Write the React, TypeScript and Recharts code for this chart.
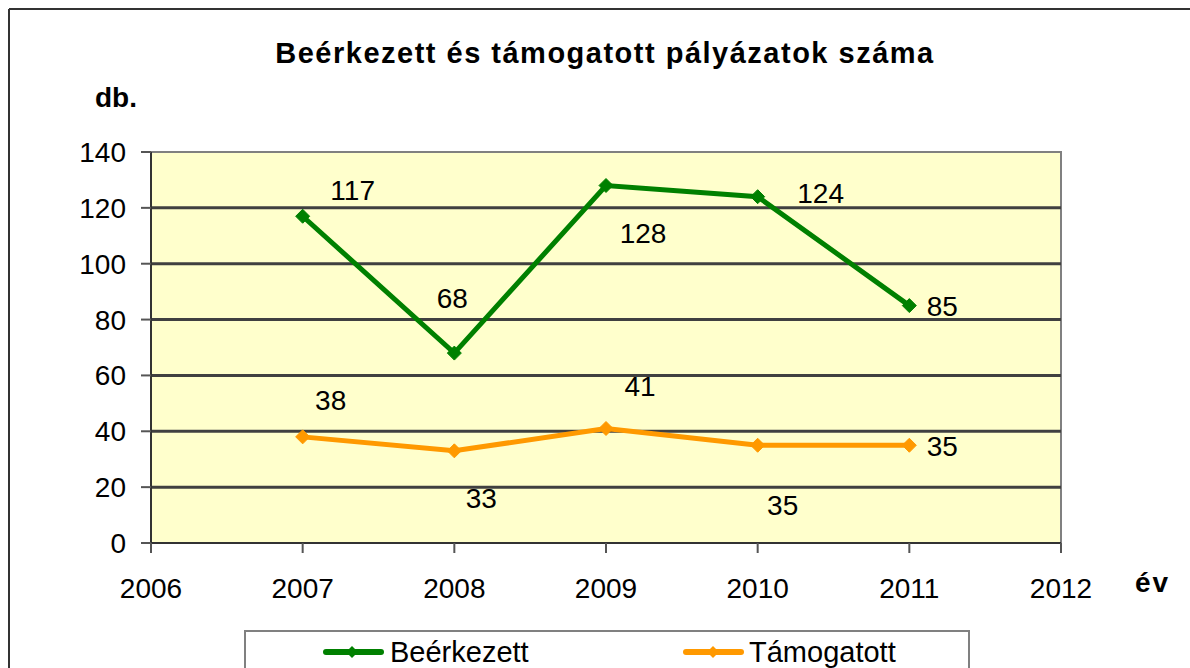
import React from 'react';
import { LineChart, Line, XAxis, YAxis, ReferenceArea, ReferenceLine, LabelList } from 'recharts';

const years = [2007, 2008, 2009, 2010, 2011];
const received = [117, 68, 128, 124, 85];
const supported = [38, 33, 41, 35, 35];
const xTicks = [2006, 2007, 2008, 2009, 2010, 2011, 2012];
const yTicks = [0, 20, 40, 60, 80, 100, 120, 140];

const title = 'Beérkezett és támogatott pályázatok száma';
const yUnit = 'db.';
const xUnit = 'év';
const nameReceived = 'Beérkezett';
const nameSupported = 'Támogatott';

// label placement (pixel offsets from each point)
const receivedLabelOffsets = [
  { dx: 50, dy: -26 },
  { dx: -2, dy: -55 },
  { dx: 37, dy: 48 },
  { dx: 63, dy: -4 },
  { dx: 33, dy: 0 },
];
const supportedLabelOffsets = [
  { dx: 28, dy: -37 },
  { dx: 27, dy: 47 },
  { dx: 34, dy: -42 },
  { dx: 25, dy: 60 },
  { dx: 33, dy: 1 },
];

const GREEN = '#008000';
const ORANGE = '#FF9900';
const FONT = '"Liberation Sans", Arial, sans-serif';

const data = years.map((y, i) => ({ year: y, received: received[i], supported: supported[i] }));

const diamond = (color: string, r: number) => (props: any) => {
  const { cx, cy } = props;
  if (cx == null || cy == null) return <g />;
  return (
    <polygon
      points={`${cx},${cy - r} ${cx + r},${cy} ${cx},${cy + r} ${cx - r},${cy}`}
      fill={color}
      stroke={color}
      strokeWidth={1}
    />
  );
};

const makeLabel = (offsets: { dx: number; dy: number }[]) => (p: any) => {
  const idx = typeof p.index === 'number' ? p.index : 0;
  const o = offsets[idx] || { dx: 0, dy: 0 };
  return (
    <text
      x={Number(p.x) + o.dx}
      y={Number(p.y) + o.dy}
      dy="0.355em"
      textAnchor="middle"
      fontSize={28}
      fontFamily={FONT}
      fill="#000"
    >
      {p.value}
    </text>
  );
};

const tickStyle = { fontSize: 28, fontFamily: FONT, fill: '#000' };

export default function App() {
  return (
    <div style={{ position: 'absolute', left: 0, top: 0, width: 1190, height: 668, overflow: 'hidden', background: '#fff' }}>
      <div style={{ position: 'absolute', left: 0, top: 0 }}>
        <LineChart
          width={1190}
          height={668}
          data={data}
          margin={{ top: 152, right: 129, bottom: 65, left: 51 }}
        >
          <XAxis
            dataKey="year"
            type="number"
            domain={[2006, 2012]}
            ticks={xTicks}
            interval={0}
            height={60}
            tickSize={10}
            tickMargin={25}
            tick={tickStyle}
            axisLine={{ stroke: '#333', strokeWidth: 2 }}
            tickLine={{ stroke: '#555', strokeWidth: 2 }}
          />
          <YAxis
            type="number"
            domain={[0, 140]}
            ticks={yTicks}
            interval={0}
            width={100}
            tickSize={10}
            tickMargin={15}
            tick={tickStyle}
            axisLine={{ stroke: '#333', strokeWidth: 2 }}
            tickLine={{ stroke: '#555', strokeWidth: 2 }}
          />
          <ReferenceArea
            x1={2006}
            x2={2012}
            y1={0}
            y2={140}
            fill="#FFFFCC"
            fillOpacity={1}
            stroke="#808080"
            strokeWidth={2}
          />
          {yTicks.slice(1, -1).map((v) => (
            <ReferenceLine key={v} y={v} stroke="#404040" strokeWidth={3} />
          ))}
          <Line
            dataKey="received"
            stroke={GREEN}
            strokeWidth={5}
            dot={diamond(GREEN, 7)}
            activeDot={false}
            isAnimationActive={false}
          >
            <LabelList dataKey="received" content={makeLabel(receivedLabelOffsets)} />
          </Line>
          <Line
            dataKey="supported"
            stroke={ORANGE}
            strokeWidth={5}
            dot={diamond(ORANGE, 7)}
            activeDot={false}
            isAnimationActive={false}
          >
            <LabelList dataKey="supported" content={makeLabel(supportedLabelOffsets)} />
          </Line>
        </LineChart>
      </div>
      <svg
        width={1190}
        height={668}
        style={{ position: 'absolute', left: 0, top: 0, pointerEvents: 'none' }}
      >
        <line x1={9} y1={9} x2={1190} y2={9} stroke="#333" strokeWidth={2} />
        <line x1={9} y1={9} x2={9} y2={668} stroke="#333" strokeWidth={2} />
        <text x={605} y={63} textAnchor="middle" fontSize={29} fontWeight="bold" fontFamily={FONT} letterSpacing={1.5} fill="#000">
          {title}
        </text>
        <text x={95} y={107} fontSize={28} fontWeight="bold" fontFamily={FONT} fill="#000">
          {yUnit}
        </text>
        <text x={1135} y={592} fontSize={28} fontWeight="bold" fontFamily={FONT} letterSpacing={2} fill="#000">
          {xUnit}
        </text>
        <rect x={245} y={631} width={724} height={60} fill="#fff" stroke="#808080" strokeWidth={2} />
        <line x1={326} y1={652} x2={381} y2={652} stroke={GREEN} strokeWidth={6} strokeLinecap="round" />
        <polygon points="352,646 358,652 352,658 346,652" fill={GREEN} />
        <text x={390} y={662} fontSize={29} fontFamily={FONT} fill="#000">{nameReceived}</text>
        <line x1={686} y1={652} x2={741} y2={652} stroke={ORANGE} strokeWidth={6} strokeLinecap="round" />
        <polygon points="713,646 719,652 713,658 707,652" fill={ORANGE} />
        <text x={749} y={662} fontSize={29} fontFamily={FONT} fill="#000">{nameSupported}</text>
      </svg>
    </div>
  );
}
